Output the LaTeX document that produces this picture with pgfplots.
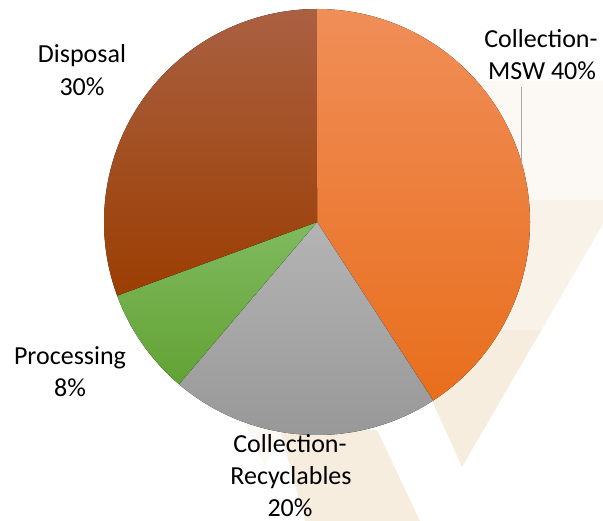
\documentclass[border=0pt]{standalone}
\usepackage{pgfplots}
\usepackage{pgfplotstable}
\pgfplotsset{compat=1.18}
\usepackage{fontspec}
\setmainfont{Carlito}
\definecolor{wm}{RGB}{247,237,223}
\definecolor{wmM}{RGB}{249,242,233}
\definecolor{wmL}{RGB}{252,248,243}
\definecolor{mswT}{RGB}{240,142,88}
\definecolor{mswM}{RGB}{244,127,45}
\definecolor{mswB}{RGB}{232,110,28}
\definecolor{disT}{RGB}{170,96,66}
\definecolor{disM}{RGB}{161,70,14}
\definecolor{disB}{RGB}{155,62,2}
\definecolor{recT}{RGB}{180,180,180}
\definecolor{recB}{RGB}{150,150,150}
\definecolor{proT}{RGB}{128,186,95}
\definecolor{proB}{RGB}{98,162,52}
\tikzset{lbl/.style={anchor=base,inner sep=0pt,font=\fontsize{26bp}{32bp}\selectfont}}

\pgfplotstableread{
label value
MSW 40
Recyclables 20
Processing 8
Disposal 30
}\piedata

\begin{document}
\begin{tikzpicture}
\pgfplotstablegetelem{0}{value}\of\piedata \let\vA\pgfplotsretval
\pgfplotstablegetelem{1}{value}\of\piedata \let\vB\pgfplotsretval
\pgfplotstablegetelem{2}{value}\of\piedata \let\vC\pgfplotsretval
\pgfplotstablegetelem{3}{value}\of\piedata \let\vD\pgfplotsretval
\pgfmathsetmacro{\tot}{\vA+\vB+\vC+\vD}
\pgfmathsetmacro{\aA}{90}
\pgfmathsetmacro{\aB}{\aA-\vA/\tot*360}
\pgfmathsetmacro{\aC}{\aB-\vB/\tot*360}
\pgfmathsetmacro{\aD}{\aC-\vC/\tot*360}
\pgfmathsetmacro{\aE}{\aD-\vD/\tot*360}
\def\R{213bp}
\begin{axis}[width=603bp,height=521bp,scale only axis,
  xmin=0,xmax=603,ymin=0,ymax=521,hide axis,clip=false]
\coordinate (SW) at (axis cs:0,0);
\coordinate (NE) at (axis cs:603,521);
% watermark (faint background V)
\fill[wm] (axis cs:462,54) -- (axis cs:541.5,191) -- (axis cs:400,191) -- (axis cs:433,118) -- cycle;
\fill[wmM] (axis cs:541.5,191) -- (axis cs:603,297) -- (axis cs:603,321) -- (axis cs:400,321) -- (axis cs:400,191) -- cycle;
\fill[wmL] (axis cs:603,321) -- (axis cs:603,440) -- (axis cs:420,440) -- (axis cs:400,321) -- cycle;
\fill[wm] (axis cs:280,91) -- (axis cs:377,91) -- (axis cs:420,0) -- (axis cs:305,0) -- cycle;
\fill[wmL] (axis cs:243,101) -- (axis cs:287,101) -- (axis cs:265,55) -- cycle;
% slices
\fill[top color=mswT,middle color=mswM,bottom color=mswB]
  (axis cs:317,299) -- ++(\aA:\R) arc[start angle=\aA,end angle=\aB,radius=\R] -- cycle;
\fill[top color=recT,bottom color=recB]
  (axis cs:317,299) -- ++(\aB:\R) arc[start angle=\aB,end angle=\aC,radius=\R] -- cycle;
\fill[top color=proT,bottom color=proB]
  (axis cs:317,299) -- ++(\aC:\R) arc[start angle=\aC,end angle=\aD,radius=\R] -- cycle;
\fill[top color=disT,middle color=disM,bottom color=disB]
  (axis cs:317,299) -- ++(\aD:\R) arc[start angle=\aD,end angle=\aE,radius=\R] -- cycle;
% leader line
\draw[color={rgb,255:red,165;green,165;blue,170},line width=0.7bp] (axis cs:521,434) -- (axis cs:521,358);
% labels
\node[lbl] at (axis cs:541,473) {Collection-};
\node[lbl] at (axis cs:542,441) {MSW 40\%};
\node[lbl] at (axis cs:82,458) {Disposal};
\node[lbl] at (axis cs:82,425) {30\%};
\node[lbl] at (axis cs:70,156) {Processing};
\node[lbl] at (axis cs:70,124) {8\%};
\node[lbl] at (axis cs:290,68) {Collection-};
\node[lbl] at (axis cs:291,36) {Recyclables};
\node[lbl] at (axis cs:290,5) {20\%};
\end{axis}
\pgfresetboundingbox
\useasboundingbox (SW) rectangle (NE);
\end{tikzpicture}
\end{document}
